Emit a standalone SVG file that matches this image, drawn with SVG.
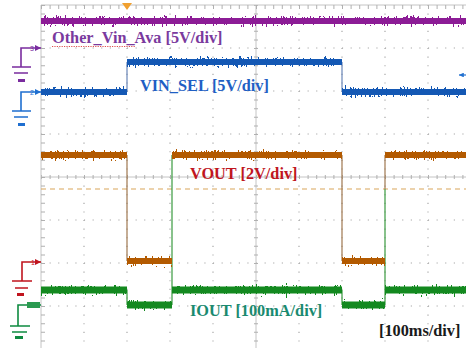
<svg xmlns="http://www.w3.org/2000/svg" width="466" height="348" viewBox="0 0 466 348">
<defs>
<style>
.grid{stroke:#A0A0A0;stroke-width:1.1;stroke-dasharray:1.1 7.5;fill:none}
.axis{stroke:#C4C4C4;stroke-width:1;fill:none}
.tick{stroke:#B0B0B0;stroke-width:4;stroke-dasharray:1 7.6;fill:none}
.lbl{font-family:"Liberation Serif","Times New Roman",serif;font-weight:bold;font-size:16.3px}
.mk{font-family:"Liberation Sans",Arial,sans-serif;font-size:7px}
.core{fill:none;stroke-linecap:butt}
.gnd{stroke-width:1.6;fill:none}
</style>
<filter id="nz" filterUnits="userSpaceOnUse" x="0" y="0" width="466" height="348" color-interpolation-filters="sRGB">
<feTurbulence type="fractalNoise" baseFrequency="0.9 0.2" numOctaves="2" seed="7" result="t"/>
<feColorMatrix in="t" type="matrix" values="0 0 0 0 0.5  0 1 0 0 0  0 0 0 0 0  0 0 0 0 1" result="m"/>
<feDisplacementMap in="SourceGraphic" in2="m" scale="15" xChannelSelector="R" yChannelSelector="G"/>
</filter>
<marker id="ar" viewBox="0 0 6 6" refX="6" refY="3" markerWidth="4" markerHeight="4" orient="auto">
<path d="M0 0 L6 3 L0 6 Z" fill="context-stroke"/>
</marker>
</defs>
<rect width="466" height="348" fill="#FFFFFF"/>
<g id="graticule">
<path class="grid" d="M84 5V348M127 5V348M170 5V348M213 5V348M299 5V348M342 5V348M385 5V348M428 5V348"/>
<path class="grid" d="M41 48H466M41 91H466M41 134H466M41 220H466M41 263H466M41 306H466"/>
<path class="axis" d="M41 177H466M256 5V348"/>
<path class="tick" d="M41 177H466"/>
<path class="tick" d="M256 5V348"/>
<path class="axis" d="M41 5V348M41 5H466" stroke="#B8B8B8"/>
<path class="tick" d="M43 5V348" stroke-width="3"/>
<path class="tick" d="M41 7H466" stroke-width="3"/>
<path d="M41 189H466" stroke="#D9A55A" stroke-width="1.2" stroke-dasharray="5 4" fill="none"/>
<polygon points="122,3 132,3 127,10" fill="#F0A030"/>
</g>
<g id="traces">
<g id="edges" fill="none" stroke-width="1.2">
<path d="M127 62V92M342 62V92" stroke="#6A86B8"/>
<path d="M127 155V261M342 155V261M385 155V189" stroke="#A07850"/>
<path d="M172 155V305M385 189V305M127 290V305M342 290V305" stroke="#3A9A40"/>
</g>
<g id="purple-trace">
<path class="core" d="M41 21H466" stroke="#8C1C96" stroke-width="6"/>
<path class="core" d="M41 21H466" stroke="#8C1C96" stroke-width="4" filter="url(#nz)"/>
</g>
<g id="blue-trace">
<path class="core" d="M41 92H127M127 62H342M342 92H466" stroke="#1458B4" stroke-width="6"/>
<path class="core" d="M41 92H127M127 62H342M342 92H466" stroke="#1458B4" stroke-width="4" filter="url(#nz)"/>
</g>
<g id="orange-trace">
<path class="core" d="M41 155H127M127 261H172M172 155H342M342 261H385M385 155H466" stroke="#B35A00" stroke-width="6"/>
<path class="core" d="M41 155H127M127 261H172M172 155H342M342 261H385M385 155H466" stroke="#B35A00" stroke-width="4" filter="url(#nz)"/>
</g>
<g id="green-trace">
<path class="core" d="M41 290H127M127 305H172M172 290H342M342 305H385M385 290H466" stroke="#13891F" stroke-width="7"/>
<path class="core" d="M41 290H127M127 305H172M172 290H342M342 305H385M385 290H466" stroke="#13891F" stroke-width="4" filter="url(#nz)"/>
</g>
</g>
<g id="markers">
<g id="gnd-ch3" stroke="#7A2C9E">
<path class="gnd" d="M21 67V48H41" marker-end="url(#ar)"/>
<path class="gnd" d="M12 67H31M14 73H28"/>
<rect x="18" y="79" width="7" height="3" fill="#7A2C9E" stroke="none"/>
<text class="mk" x="30" y="51" fill="#7A2C9E" stroke="none">3</text>
</g>
<g id="gnd-ch2" stroke="#1F6FD0">
<path class="gnd" d="M21 111V92H41" marker-end="url(#ar)"/>
<path class="gnd" d="M12 111H31M14 117H28"/>
<rect x="18" y="123" width="7" height="3" fill="#1F6FD0" stroke="none"/>
<text class="mk" x="30" y="95" fill="#1F6FD0" stroke="none">2</text>
</g>
<g id="gnd-ch1" stroke="#C0141E">
<path class="gnd" d="M22 281V262H41" marker-end="url(#ar)"/>
<path class="gnd" d="M12 281H32M15 288H28"/>
<rect x="17" y="293" width="7" height="3" fill="#C0141E" stroke="none"/>
<text class="mk" x="31" y="265" fill="#C0141E" stroke="none">1</text>
</g>
<g id="gnd-ch4" stroke="#0E8A40">
<path class="gnd" d="M18 326V305H41"/>
<path class="gnd" d="M10 326H30M12 332H27"/>
<rect x="15" y="336" width="8" height="3" fill="#0E8A40" stroke="none"/>
<rect x="27" y="302" width="13" height="6" fill="#2A9A50" stroke="none"/>
</g>
<path d="M466 75H459" stroke="#2070D0" stroke-width="1.2" fill="none" marker-end="url(#ar)"/>
</g>
<g id="labels">
<text class="lbl" x="52" y="43" fill="#7A3A9E">Other_Vin_Ava [5V/div]</text>
<path d="M52 46.5H135" stroke="#E05050" stroke-width="1" stroke-dasharray="1.2 1.2" fill="none"/>
<text class="lbl" x="140" y="91" fill="#1F5FC4">VIN_SEL [5V/div]</text>
<text class="lbl" x="190" y="179" fill="#C0161E">VOUT [2V/div]</text>
<text class="lbl" x="190" y="316" fill="#1A8A70">IOUT [100mA/div]</text>
<text class="lbl" x="379" y="336" fill="#1A1A1A">[100ms/div]</text>
</g>
</svg>
